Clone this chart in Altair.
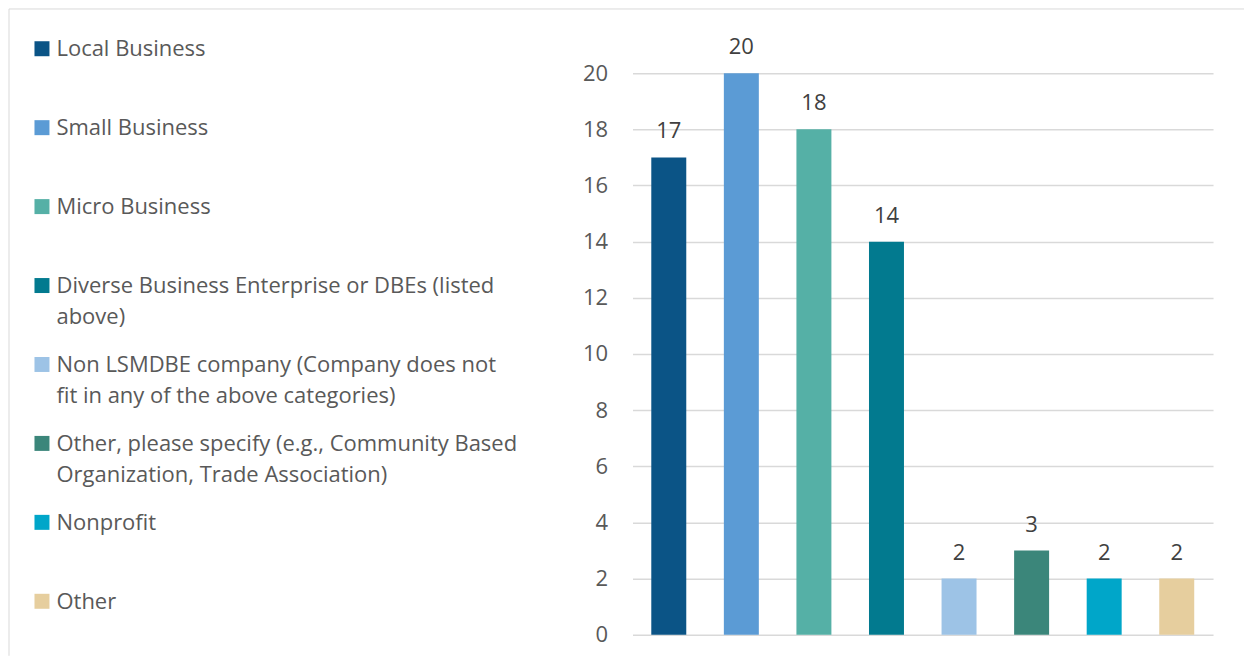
import altair as alt
import pandas as pd

categories = [
    "Local Business",
    "Small Business",
    "Micro Business",
    "Diverse Business Enterprise or DBEs (listed above)",
    "Non LSMDBE company (Company does not fit in any of the above categories)",
    "Other, please specify (e.g., Community Based Organization, Trade Association)",
    "Nonprofit",
    "Other",
]
legend_labels = [
    "Local Business",
    "Small Business",
    "Micro Business",
    "Diverse Business Enterprise or DBEs (listed\nabove)",
    "Non LSMDBE company (Company does not\nfit in any of the above categories)",
    "Other, please specify (e.g., Community Based\nOrganization, Trade Association)",
    "Nonprofit",
    "Other",
]
values = [17, 20, 18, 14, 2, 3, 2, 2]
colors = ["#0B5486", "#5B9BD5", "#55B0A6", "#027A8F", "#9DC3E6", "#3B867A", "#00A6C9", "#E6CE9E"]
y_ticks = [0, 2, 4, 6, 8, 10, 12, 14, 16, 18, 20]

FONT = "Open Sans"
FS = 22

df = pd.DataFrame({"cat": categories, "label": legend_labels, "value": values})

color = alt.Color("cat:N", scale=alt.Scale(domain=categories, range=colors), legend=None)
xenc = alt.X("cat:N", sort=categories, axis=None,
             scale=alt.Scale(paddingInner=0.518, paddingOuter=0.259))
yscale = alt.Scale(domain=[0, 20], nice=False)

bars = alt.Chart(df).mark_bar().encode(
    x=xenc,
    y=alt.Y("value:Q", scale=yscale,
            axis=alt.Axis(values=y_ticks, title=None, domain=False, ticks=False, tickSize=0,
                          orient="left", labelPadding=25, labelFont=FONT, labelFontSize=FS,
                          labelColor="#595959", grid=True, gridColor="#D9D9D9", gridWidth=1.5)),
    color=color,
)
labels = alt.Chart(df).mark_text(dy=-19, baseline="alphabetic", align="center",
                                 font=FONT, fontSize=FS, color="#404040").encode(
    x=xenc,
    y=alt.Y("value:Q", scale=yscale, axis=None),
    text=alt.Text("value:Q"),
)

leg_y = alt.Y("cat:N", sort=categories, axis=None,
              scale=alt.Scale(type="point", range=[-24.5, 528.5], padding=0))
leg_sq = alt.Chart(df).mark_square(size=225, opacity=1).encode(
    x=alt.value(-591),
    y=leg_y,
    color=color,
)
leg_txt = alt.Chart(df).mark_text(align="left", baseline="alphabetic", dy=7.5, lineBreak="\n",
                                  lineHeight=31, font=FONT, fontSize=FS, color="#595959").encode(
    x=alt.value(-576.5),
    y=leg_y,
    text="label:N",
)

frame_df = pd.DataFrame({"k": [0]})
left_line = alt.Chart(frame_df).mark_rule(color="#D9D9D9", strokeWidth=1).encode(
    x=alt.value(-624), y=alt.value(-64.3), y2=alt.value(583))
top_line = alt.Chart(frame_df).mark_rule(color="#D9D9D9", strokeWidth=1).encode(
    y=alt.value(-64.3), x=alt.value(-624), x2=alt.value(612))

chart = alt.layer(bars, labels, leg_sq, leg_txt, left_line, top_line).resolve_scale(
    y="independent"
).properties(width=581, height=562, padding=0).configure_view(stroke=None)

chart.save("out.html", embed_options={"renderer": "svg", "actions": False})
